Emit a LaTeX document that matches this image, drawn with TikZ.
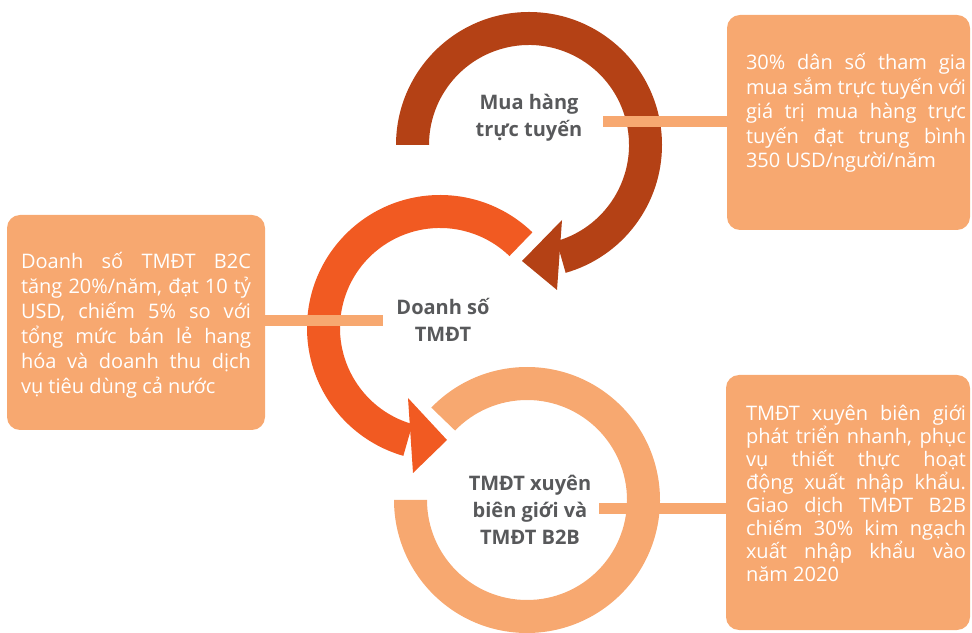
\documentclass[tikz,border=0pt]{standalone}
\usepackage{fontspec}
\setmainfont{Open Sans}
\usetikzlibrary{calc}

\definecolor{arcdark}{RGB}{180,65,21}
\definecolor{arcmid}{RGB}{241,90,34}
\definecolor{arclight}{RGB}{247,168,112}
\definecolor{labelgray}{RGB}{88,89,91}

\begin{document}
\begin{tikzpicture}[x=1pt, y=1pt,
  infobox/.style={fill=arclight, rounded corners=13pt, inner sep=0pt},
  boxtext/.style={text=white, align=justify, inner sep=0pt},
  steplabel/.style={text=labelgray, align=center, inner sep=0pt, font=\bfseries\fontsize{20}{27}\selectfont},
  link/.style={draw=arclight, line width=11pt}]

  \useasboundingbox (0,0) rectangle (972,632);

  % Centres and radii
  \coordinate (cA) at (529,487);
  \coordinate (cB) at (440,304);
  \coordinate (cC) at (527,132);
  \def\Ro{133}
  \def\Ri{100}

  % Top arc (dark)
  \fill[arcdark] ($(cA)+(180:\Ro)$) arc[start angle=180, end angle=-74, radius=\Ro]
    -- ($(cA)+(-74:\Ri)$) arc[start angle=-74, end angle=180, radius=\Ri] -- cycle;
  \fill[arcdark] (562,412) -- (522,371) -- (557,342) -- cycle;

  % Middle arc
  \fill[arcmid] ($(cB)+(46:\Ro)$) arc[start angle=46, end angle=254, radius=\Ro]
    -- ($(cB)+(254:\Ri)$) arc[start angle=254, end angle=46, radius=\Ri] -- cycle;
  \fill[arcmid] (408,234) -- (447,192) -- (413,159) -- cycle;

  % Bottom ring
  \fill[arclight] ($(cC)+(136:\Ro)$) arc[start angle=136, end angle=-180, radius=\Ro]
    -- ($(cC)+(-180:\Ri)$) arc[start angle=-180, end angle=136, radius=\Ri] -- cycle;

  % Boxes
  \node[infobox, minimum width=243, minimum height=215] (boxA) at (848.5,509.5) {};
  \node[infobox, minimum width=258, minimum height=215] (boxB) at (136,309.5) {};
  \node[infobox, minimum width=244, minimum height=255] (boxC) at (848,129.5) {};

  % Links
  \coordinate (endA) at (603,510);
  \coordinate (endB) at (383,311.5);
  \coordinate (endC) at (599,123);
  \draw[link] (endA) -- (boxA.west |- endA);
  \draw[link] (boxB.east |- endB) -- (endB);
  \draw[link] (endC) -- (boxC.west |- endC);

  % Labels
  \node[steplabel] (labA) at (529,514) {Mua hàng\\trực tuyến};
  \node[steplabel] (labB) at (443,312) {Doanh số\\TMĐT};
  \node[steplabel] (labC) at (530,122) {TMĐT xuyên\\biên giới và\\TMĐT B2B};

  % Box texts
  \node[boxtext, text width=220, font=\fontsize{20}{24.5}\selectfont] (txtA) at (856,519)
    {30\% dân số tham gia\linebreak mua sắm trực tuyến với\linebreak giá trị mua hàng trực\linebreak tuyến đạt trung bình\linebreak 350 USD/người/năm};
  \node[boxtext, text width=230, font=\fontsize{20}{25}\selectfont] (txtB) at (136,307)
    {Doanh số TMĐT B2C\linebreak tăng 20\%/năm, đạt 10 tỷ\linebreak USD, chiếm 5\% so với\linebreak tổng mức bán lẻ hang\linebreak hóa và doanh thu dịch\linebreak vụ tiêu dùng cả nước};
  \node[boxtext, text width=220, font=\fontsize{20}{23}\selectfont] (txtC) at (856,139)
    {TMĐT xuyên biên giới\linebreak phát triển nhanh, phục\linebreak vụ thiết thực hoạt\linebreak động xuất nhập khẩu.\linebreak Giao dịch TMĐT B2B\linebreak chiếm 30\% kim ngạch\linebreak xuất nhập khẩu vào\linebreak năm 2020};

\end{tikzpicture}
\end{document}
